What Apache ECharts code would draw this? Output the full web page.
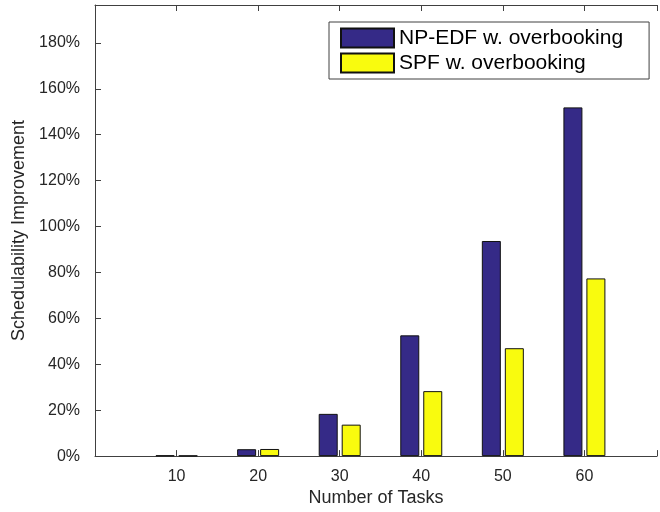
<!DOCTYPE html>
<html>
<head>
<meta charset="utf-8">
<script src="https://cdn.jsdelivr.net/npm/echarts@6/dist/echarts.min.js"></script>
<style>html,body{margin:0;padding:0;background:#fff;}#c{width:660px;height:512px;}</style>
</head>
<body>
<div id="c"></div>
<script>
const categories = [10, 20, 30, 40, 50, 60];
const seriesNames = ['NP-EDF w. overbooking', 'SPF w. overbooking'];
const npEdf = [0.3, 3.0, 18.4, 52.6, 93.7, 151.9];
const spf = [0.2, 3.1, 13.7, 28.3, 47.0, 77.4];
const yTicks = [0, 20, 40, 60, 80, 100, 120, 140, 160, 180];
// visible part of the x range (the plot box continues past the right edge)
const xMin = 0, xMax = 68.9;

const axisColor = '#404040';
const textColor = '#262626';
const font = 'Liberation Sans, Arial, Helvetica, sans-serif';

const chart = echarts.init(document.getElementById('c'), null, {renderer: 'canvas'});
const option = {
  animation: false,
  backgroundColor: '#fff',
  grid: {left: 95, top: 5, right: 0, bottom: 55, containLabel: false},
  legend: {
    orient: 'vertical',
    left: 329, top: 22,
    padding: [5, 26, 5, 11],
    itemWidth: 53, itemHeight: 19, itemGap: 3,
    icon: 'rect',
    borderColor: axisColor, borderWidth: 1, backgroundColor: '#fff',
    textStyle: {fontSize: 21, color: '#000', fontFamily: font, lineHeight: 22},
    data: seriesNames
  },
  xAxis: [{
    type: 'value', min: xMin, max: xMax, interval: 10,
    name: 'Number of Tasks', nameLocation: 'middle', nameGap: 31,
    nameTextStyle: {fontSize: 18, color: textColor, fontFamily: font},
    axisLine: {show: true, lineStyle: {color: axisColor, width: 1}},
    axisTick: {show: true, inside: true, length: 6, lineStyle: {color: axisColor}},
    splitLine: {show: false},
    axisLabel: {
      fontSize: 16, color: textColor, fontFamily: font, margin: 12,
      formatter: v => categories.indexOf(v) >= 0 ? String(v) : ''
    }
  }, {
    type: 'value', min: xMin, max: xMax, interval: 10, position: 'top',
    axisLine: {show: true, onZero: false, lineStyle: {color: axisColor, width: 1}},
    axisTick: {show: true, inside: true, length: 6, lineStyle: {color: axisColor}},
    axisLabel: {show: false}, splitLine: {show: false}
  }],
  yAxis: [{
    type: 'value', min: 0, max: 196.5, interval: 20,
    name: 'Schedulability Improvement', nameLocation: 'middle', nameGap: 64,
    nameTextStyle: {fontSize: 18, color: textColor, fontFamily: font},
    axisLine: {show: true, lineStyle: {color: axisColor, width: 1}},
    axisTick: {show: true, inside: true, length: 6, lineStyle: {color: axisColor}},
    splitLine: {show: false},
    axisLabel: {
      fontSize: 16, color: textColor, fontFamily: font, margin: 15,
      formatter: v => yTicks.indexOf(v) >= 0 ? v + '%' : ''
    }
  }],
  series: [{
    name: seriesNames[0], type: 'bar', xAxisIndex: 0, yAxisIndex: 0,
    barWidth: 19, barGap: '21%',
    itemStyle: {color: '#352A87', borderColor: '#111', borderWidth: 1},
    data: categories.map((c, i) => [c, npEdf[i]])
  }, {
    name: seriesNames[1], type: 'bar', xAxisIndex: 0, yAxisIndex: 0,
    barWidth: 19, barGap: '21%',
    itemStyle: {color: '#F9FB0E', borderColor: '#111', borderWidth: 1},
    data: categories.map((c, i) => [c, spf[i]])
  }]
};
chart.setOption(option);
</script>
</body>
</html>
